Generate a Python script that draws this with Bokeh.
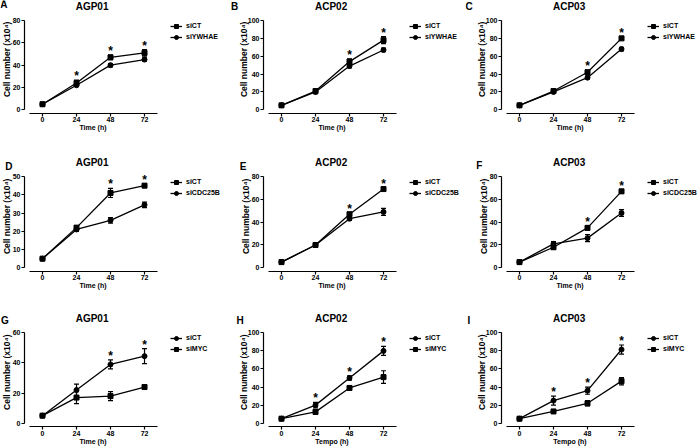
import math
from bokeh.plotting import figure
from bokeh.models import (Range1d, Whisker, TeeHead, ColumnDataSource, Legend,
                          LegendItem, Label, FixedTicker)
from bokeh.layouts import column, row
from bokeh.embed import file_html
from bokeh.resources import INLINE
from bokeh.core.properties import value

# ---------------- data ----------------
hours = [0, 24, 48, 72]

# Row 1: siYWHAE
a_ct = [5, 24, 47, 51]
a_ct_err = [0.5, 2.5, 2.0, 3.0]
a_kd = [5, 22, 40, 45]
a_kd_err = [0.5, 1.0, 1.5, 1.5]
a_stars = [24, 48, 72]

b_ct = [5, 21, 54, 78]
b_ct_err = [0.5, 1.5, 3.0, 4.0]
b_kd = [5, 20, 49, 67]
b_kd_err = [0.5, 2.0, 2.0, 2.0]
b_stars = [48, 72]

c_ct = [5, 21, 42, 80]
c_ct_err = [0.5, 1.0, 2.5, 1.5]
c_kd = [5, 20, 36, 68]
c_kd_err = [0.5, 1.0, 1.5, 2.0]
c_stars = [48, 72]

# Row 2: siCDC25B
d_ct = [5, 22, 41, 45]
d_ct_err = [0.3, 1.0, 2.5, 1.0]
d_kd = [5, 21, 26, 34.5]
d_kd_err = [0.3, 1.0, 1.5, 1.5]
d_stars = [48, 72]

e_ct = [5, 20, 47, 69]
e_ct_err = [0.3, 1.0, 1.0, 1.0]
e_kd = [5, 20, 43, 49]
e_kd_err = [0.3, 1.5, 1.5, 3.0]
e_stars = [48, 72]

f_ct = [5, 18, 35, 67]
f_ct_err = [0.3, 1.5, 2.0, 1.5]
f_kd = [5, 21, 26, 48]
f_kd_err = [0.3, 2.0, 3.0, 3.0]
f_stars = [48, 72]

# Row 3: siMYC
g_ct = [5, 22, 39, 44.5]
g_ct_err = [0.5, 4.0, 3.0, 5.0]
g_kd = [5, 17, 18, 24]
g_kd_err = [0.5, 4.0, 3.0, 0.8]
g_stars = [48, 72]

h_ct = [5, 20, 50, 80]
h_ct_err = [0.5, 3.0, 2.5, 5.0]
h_kd = [5, 12.5, 39, 51]
h_kd_err = [0.5, 2.5, 1.0, 7.0]
h_stars = [24, 48, 72]

i_ct = [5, 25, 36, 81.5]
i_ct_err = [0.5, 5.0, 4.0, 5.0]
i_kd = [5, 13, 22, 46.5]
i_kd_err = [0.5, 1.0, 3.0, 4.0]
i_stars = [24, 48, 72]

letters = ["A", "B", "C", "D", "E", "F", "G", "H", "I"]
titles = ["AGP01", "ACP02", "ACP03"]
kd_names = ["siYWHAE", "siCDC25B", "siMYC"]
ct_name = "siCT"
y_max = [80, 100, 100, 50, 80, 80, 60, 100, 100]
y_step = [20, 20, 20, 10, 20, 20, 20, 20, 20]
x_labels = ["Time (h)"] * 7 + ["Tempo (h)"] * 2
y_label = "Cell number (x10\u2074)"

panels = [
    (a_ct, a_ct_err, a_kd, a_kd_err, a_stars),
    (b_ct, b_ct_err, b_kd, b_kd_err, b_stars),
    (c_ct, c_ct_err, c_kd, c_kd_err, c_stars),
    (d_ct, d_ct_err, d_kd, d_kd_err, d_stars),
    (e_ct, e_ct_err, e_kd, e_kd_err, e_stars),
    (f_ct, f_ct_err, f_kd, f_kd_err, f_stars),
    (g_ct, g_ct_err, g_kd, g_kd_err, g_stars),
    (h_ct, h_ct_err, h_kd, h_kd_err, h_stars),
    (i_ct, i_ct_err, i_kd, i_kd_err, i_stars),
]

# ---------------- layout (page pixels) ----------------
FONT = "Liberation Sans"
COL_X0 = [0, 227, 465]
COL_W = [227, 238, 235]
ROW_Y0 = [0, 150, 300]
ROW_H = [150, 150, 147]
YAXIS_X = [24.0, 263.0, 501.0]      # y-axis line position
YMAX_Y = [20.0, 176.0, 332.3]       # top tick position
ZERO_Y = [109.3, 267.3, 422.7]      # zero tick position
XAXIS_OFF = 3.3                     # x-axis line below zero
PX_PER_H = 1.417
Y_AXIS_AT = -12.7                   # hours
X_AXIS_BOUNDS = (-9, 81)
LETTER_XY = [(3.3, 4.2), (234.2, 5.5), (468.5, 6.2),
             (8.3, 165.7), (242.5, 166.2), (478.7, 165.3),
             (4.5, 320.0), (239.5, 320.0), (468.3, 320.0)]
MARKERS = [("square", "circle"), ("square", "circle"), ("circle", "square")]
TITLE_X_H = 35.0
XLABEL_X_H = 35.6


def style_axis(ax):
    ax.axis_line_color = "black"
    ax.axis_line_width = 1.2
    ax.major_tick_line_color = "black"
    ax.major_tick_line_width = 1.2
    ax.major_tick_in = 0
    ax.major_tick_out = 3
    ax.minor_tick_line_color = None
    ax.major_label_text_font = FONT
    ax.major_label_text_font_size = "7px"
    ax.major_label_text_font_style = "bold"
    ax.major_label_text_color = "black"
    ax.major_label_standoff = 1


def txt(**kw):
    base = dict(text_font=FONT, text_font_style="bold", text_color="black",
                text_align="center", text_baseline="middle")
    base.update(kw)
    return Label(**base)


def make_panel(idx):
    r, c = divmod(idx, 3)
    ct, ct_err, kd, kd_err, stars = panels[idx]
    ymax = y_max[idx]
    W, H = COL_W[c], ROW_H[r]
    T = YMAX_Y[r] - ROW_Y0[r]
    span = ZERO_Y[r] - YMAX_Y[r]
    ppu = span / ymax
    y_end = ymax + T / ppu
    y_start = y_end - H / ppu
    yaxis_rel = YAXIS_X[c] - COL_X0[c]
    x_start = Y_AXIS_AT - yaxis_rel / PX_PER_H
    x_end = x_start + W / PX_PER_H

    p = figure(width=W, height=H, output_backend="svg", toolbar_location=None,
               x_range=Range1d(x_start, x_end), y_range=Range1d(y_start, y_end),
               min_border=0)
    p.outline_line_color = None
    p.xgrid.visible = False
    p.ygrid.visible = False

    xa, ya = p.xaxis[0], p.yaxis[0]
    style_axis(xa)
    style_axis(ya)
    xa.ticker = FixedTicker(ticks=hours)
    ya.ticker = FixedTicker(ticks=list(range(0, ymax + 1, y_step[idx])))
    xa.bounds = X_AXIS_BOUNDS
    ya.bounds = (0, ymax)
    xa.fixed_location = -XAXIS_OFF / ppu
    ya.fixed_location = Y_AXIS_AT

    m_ct, m_kd = MARKERS[r]
    items = []
    for vals, errs, mk, name in ((ct, ct_err, m_ct, ct_name),
                                 (kd, kd_err, m_kd, kd_names[r])):
        src = ColumnDataSource(dict(
            x=hours, y=vals,
            lo=[v - e for v, e in zip(vals, errs)],
            hi=[v + e for v, e in zip(vals, errs)]))
        wk = Whisker(base="x", upper="hi", lower="lo", source=src,
                     dimension="height", line_color="black", line_width=1.2,
                     upper_head=TeeHead(size=5, line_color="black", line_width=1.2),
                     lower_head=TeeHead(size=5, line_color="black", line_width=1.2))
        p.add_layout(wk)
        ln = p.line("x", "y", source=src, line_color="black", line_width=1.3)
        sc = p.scatter("x", "y", source=src, marker=mk, size=5,
                       fill_color="black", line_color="black")
        items.append(LegendItem(label=name, renderers=[ln, sc]))

    # significance stars above the highest error bar
    sx, sy = [], []
    for h in stars:
        k = hours.index(h)
        sx.append(h)
        sy.append(max(ct[k] + ct_err[k], kd[k] + kd_err[k]))
    p.text(x=sx, y=sy, text=["*"] * len(sx), text_font=value(FONT),
           text_font_size="12px", text_font_style="bold", text_color="black",
           text_align="center", text_baseline="middle", y_offset=-4)

    # legend (screen px from bottom-left of the frame == figure)
    leg_h = 21
    legend = Legend(items=items,
                    location=(yaxis_rel + 146.0, H - (T + 0.5) - leg_h),
                    orientation="vertical",
                    label_text_font=FONT, label_text_font_size="7px",
                    label_text_font_style="bold", label_text_color="black",
                    glyph_width=12, glyph_height=10, label_height=10,
                    label_standoff=4, spacing=1, padding=0, margin=0,
                    border_line_color=None, background_fill_alpha=0)
    p.add_layout(legend)

    # title
    p.add_layout(txt(x=TITLE_X_H, x_units="data", y=H - (T - 14.0), y_units="screen",
                     text=titles[c], text_font_size="10px"))
    # panel letter
    lx, ly = LETTER_XY[idx]
    p.add_layout(txt(x=lx - COL_X0[c], y=H - (ly - ROW_Y0[r]), x_units="screen",
                     y_units="screen", text=letters[idx], text_font_size="10px"))
    # axis titles
    p.add_layout(txt(x=XLABEL_X_H, x_units="data",
                     y=H - (T + span + XAXIS_OFF + 14.5), y_units="screen",
                     text=x_labels[idx], text_font_size="7px"))
    ylab_dx = 20.0 if ymax >= 100 else 18.0
    p.add_layout(txt(x=yaxis_rel - ylab_dx, x_units="screen",
                     y=H - (T + span / 2 - 5.8), y_units="screen",
                     angle=math.pi / 2, text=y_label, text_font_size="8.5px"))
    return p


figs = [make_panel(i) for i in range(9)]
layout = column(row(*figs[0:3], spacing=0), row(*figs[3:6], spacing=0),
                row(*figs[6:9], spacing=0), spacing=0)

open("out.html", "w").write(file_html(layout, INLINE))
